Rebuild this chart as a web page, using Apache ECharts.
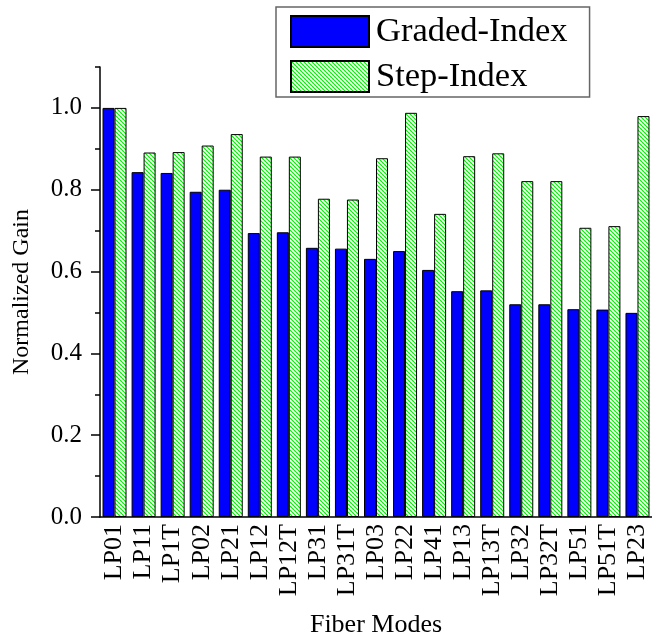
<!DOCTYPE html>
<html>
<head>
<meta charset="utf-8">
<script src="https://cdn.jsdelivr.net/npm/echarts@6/dist/echarts.min.js"></script>
<style>html,body{margin:0;padding:0;background:#fff;}#chart{width:652px;height:643px;}</style>
</head>
<body>
<div id="chart"></div>
<script>
const categories = ['LP01','LP11','LP1T','LP02','LP21','LP12','LP12T','LP31','LP31T','LP03','LP22','LP41','LP13','LP13T','LP32','LP32T','LP51','LP51T','LP23'];
const gradedIndex = [1.0,0.843,0.841,0.795,0.800,0.694,0.696,0.658,0.656,0.631,0.650,0.604,0.552,0.554,0.520,0.520,0.508,0.507,0.499];
const stepIndex = [1.0,0.891,0.892,0.908,0.936,0.881,0.881,0.778,0.776,0.877,0.988,0.741,0.882,0.889,0.821,0.821,0.707,0.711,0.980];
const yMajorTicks = [0,0.2,0.4,0.6,0.8,1.0];

function hatch() {
  const s = 4;
  const c = document.createElement('canvas');
  c.width = s; c.height = s;
  const g = c.getContext('2d');
  g.fillStyle = '#fff'; g.fillRect(0,0,s,s);
  g.strokeStyle = '#00f000'; g.lineWidth = 1.2;
  g.beginPath();
  g.moveTo(-1,-1); g.lineTo(s+1,s+1);
  g.moveTo(s-1,-1); g.lineTo(s+1,1);
  g.moveTo(-1,s-1); g.lineTo(1,s+1);
  g.stroke();
  return {image: c, repeat: 'repeat'};
}

const font = 'Liberation Serif';
const chart = echarts.init(document.getElementById('chart'), null, {renderer:'canvas'});
chart.setOption({
  animation: false,
  backgroundColor: '#fff',
  legend: {
    orient: 'vertical',
    left: 276, top: 7,
    padding: [7, 22, 3, 14],
    itemWidth: 78, itemHeight: 31, itemGap: 10,
    icon: 'rect',
    borderColor: '#666', borderWidth: 1.5,
    textStyle: {fontFamily: font, fontSize: 34.5, lineHeight: 31, color: '#000', padding: [0,0,0,2]},
    data: ['Graded-Index','Step-Index']
  },
  grid: {left: 100, top: 67, bottom: 125, right: -7, containLabel: false},
  xAxis: {
    type: 'category',
    data: categories,
    boundaryGap: true,
    name: 'Fiber Modes', nameLocation: 'middle', nameGap: 95,
    nameTextStyle: {fontFamily: font, fontSize: 26, color: '#000'},
    axisLine: {lineStyle: {color: '#000', width: 1.5}},
    axisTick: {alignWithLabel: true, length: 9, lineStyle: {color: '#000', width: 1.5}},
    axisLabel: {rotate: 90, interval: 0, margin: 7, fontFamily: font, fontSize: 26, color: '#000'},
    splitLine: {show: false}
  },
  yAxis: [{
    type: 'value', min: 0, max: 1.1, interval: 0.1,
    name: 'Normalized Gain', nameLocation: 'middle', nameGap: 66,
    nameTextStyle: {fontFamily: font, fontSize: 24, color: '#000'},
    axisLine: {show: true, lineStyle: {color: '#000', width: 1.5}},
    axisTick: {show: true, length: 5, lineStyle: {color: '#000', width: 1.5}},
    axisLabel: {show: false},
    splitLine: {show: false}
  }, {
    type: 'value', min: 0, max: 1.1, position: 'left', offset: 0,
    axisLine: {show: false},
    axisTick: {show: true, length: 9, customValues: yMajorTicks, lineStyle: {color: '#000', width: 1.5}},
    axisLabel: {show: true, margin: 18, customValues: yMajorTicks, fontFamily: font, fontSize: 25, color: '#000',
      formatter: v => v.toFixed(1)},
    splitLine: {show: false}
  }],
  series: [{
    name: 'Graded-Index', type: 'bar', data: gradedIndex, yAxisIndex: 0,
    barWidth: 12, barGap: '0%',
    itemStyle: {color: '#0000ff', borderColor: '#000', borderWidth: 1}
  }, {
    name: 'Step-Index', type: 'bar', data: stepIndex, yAxisIndex: 0,
    barWidth: 12, barGap: '0%',
    itemStyle: {color: hatch(), borderColor: '#000', borderWidth: 1}
  }]
});
</script>
</body>
</html>
